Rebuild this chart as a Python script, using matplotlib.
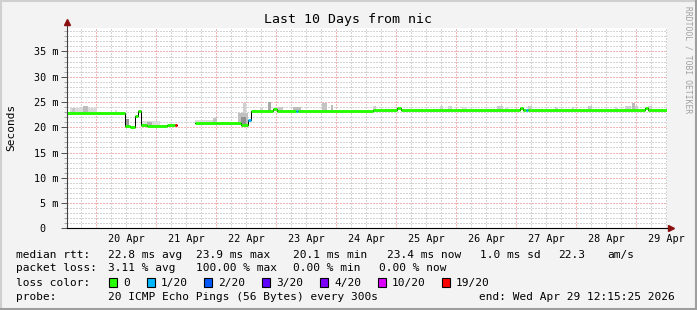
import numpy as np
import matplotlib
matplotlib.use('Agg')
import matplotlib.pyplot as plt
from matplotlib.patches import Rectangle
from matplotlib.lines import Line2D
from datetime import datetime, timedelta

plt.rcParams['font.family'] = ['DejaVu Sans Mono']

# time axis: hours since graph start (end = Wed Apr 29 12:15:25 2026, 10 days)
t_end = datetime(2026, 4, 29, 12, 15, 25)
t_start = t_end - timedelta(days=10)

# median rtt (ms) as steps: start hour of each step, median, lost pings of 20
seg_start = [0, 23.3, 25.2, 27.3, 28.3, 29.5, 32.0, 40.0, 43.2, 44.0,
             51.2, 59.9, 69.6, 72.3, 73.6, 82.4, 84.0, 91.6, 92.4, 122.4,
             132.0, 133.6, 181.2, 182.4, 183.6, 184.4, 231.2, 232.4]
seg_median = [22.9, 20.2, 20.0, 22.3, 23.3, 20.5, 20.3, 20.45, 20.45, np.nan,
              20.9, 20.8, 20.5, 21.4, 23.3, 23.6, 23.2, 23.2, 23.2, 23.4,
              23.9, 23.4, 23.8, 23.4, 23.4, 23.4, 23.8, 23.4]
seg_loss = [0, 0, 0, 0, 0, 0, 0, 0, 19, 0,
            0, 0, 0, 1, 0, 0, 0, 1, 0, 0,
            0, 0, 0, 0, 1, 0, 0, 0]

# smoke (spread of the 20 pings), hours and ms
smoke_start = [1.2, 6.4, 2.0, 19.0, 23.3, 30.0, 31.9, 51.2, 58.4, 68.5, 69.5,
               70.5, 77.2, 80.3, 84.5, 90.5, 101.9, 105.6, 122.5, 149.2, 152.3,
               157.9, 171.9, 175.2, 184.5, 195.2, 201.9, 208.5, 219.2, 223.2,
               226.1, 227.2, 232.5]
smoke_end = [12.0, 8.4, 3.2, 20.0, 24.6, 37.2, 33.9, 59.9, 59.9, 72.5, 71.5,
             71.5, 78.5, 81.6, 86.5, 93.6, 103.9, 106.5, 123.5, 150.5, 153.9,
             159.9, 174.5, 176.5, 185.9, 196.5, 202.9, 210.1, 220.5, 225.6,
             227.2, 228.5, 233.9]
smoke_low = [22.9, 22.9, 22.9, 22.9, 20.1, 20.3, 20.3, 20.9, 20.9, 20.5, 20.5,
             22.8, 23.3, 23.3, 23.2, 23.2, 23.2, 23.2, 23.4, 23.4, 23.4,
             23.4, 23.4, 23.4, 23.4, 23.4, 23.4, 23.4, 23.4, 23.4,
             23.4, 23.4, 23.4]
smoke_high = [23.8, 24.2, 23.9, 23.4, 21.6, 21.3, 21.1, 21.5, 21.8, 22.8, 22.0,
              24.7, 24.1, 24.9, 24.1, 24.1, 24.75, 24.5, 24.3, 24.3, 24.3,
              24.0, 24.3, 24.0, 24.3, 24.1, 24.1, 24.3, 24.0, 24.3,
              24.75, 24.3, 24.3]
smoke_gray = ['#dadada', '#bdbdbd', '#c8c8c8', '#dcdcdc', '#9a9a9a', '#dcdcdc',
              '#b0b0b0', '#dddddd', '#c4c4c4', '#c0c0c0', '#909090', '#d0d0d0',
              '#d6d6d6', '#a8a8a8', '#c8c8c8', '#bcbcbc', '#c4c4c4', '#bbbbbb',
              '#d0d0d0', '#d0d0d0', '#d4d4d4', '#dddddd', '#cccccc', '#dddddd',
              '#cccccc', '#d0d0d0', '#d4d4d4', '#c8c8c8', '#d8d8d8', '#d0d0d0',
              '#bbbbbb', '#cccccc', '#d0d0d0']

loss_labels = ['0', '1/20', '2/20', '3/20', '4/20', '10/20', '19/20']
loss_counts = [0, 1, 2, 3, 4, 10, 19]
loss_colors = ['#26ff00', '#00b8ff', '#0059ff', '#5e00ff', '#7e00ff', '#dd00ff', '#ff0000']

rtt_stats = ['22.8 ms avg', '23.9 ms max', '20.1 ms min', '23.4 ms now', '1.0 ms sd', '22.3', 'am/s']
loss_stats = ['3.11 % avg', '100.00 % max', '0.00 % min', '0.00 % now']
probe_text = '20 ICMP Echo Pings (56 Bytes) every 300s'

W, H = 697, 310
fig = plt.figure(figsize=(W / 100, H / 100), dpi=100, facecolor='#f3f3f3')
ax = fig.add_axes([67 / W, 1 - 228.3 / H, 600 / W, 200.6 / H])
ax.set_facecolor('white')
ax.set_xlim(0, 240)
ax.set_ylim(0, 39.7)
for s in ax.spines.values():
    s.set_visible(False)


def px(x, y):
    return x / W, 1 - y / H


# grid, crisp 1px dotted lines
hours = lambda d: (d - t_start).total_seconds() / 3600
first_mid = datetime(2026, 4, 20)
midnights = [hours(first_mid + timedelta(days=k)) for k in range(10)]
six_h = [hours(first_mid + timedelta(hours=6 * k)) for k in range(-1, 40)]
grid_kw = dict(lw=1.0, ls=(0, (1, 1)), zorder=0, antialiased=False)
for h in six_h:
    if 0 < h < 240 and min(abs(h - m) for m in midnights) > 0.1:
        ax.axvline(h, color='#d4d4d4', **grid_kw)
for h in midnights:
    ax.axvline(h, color='#f4b4b4', **grid_kw)
for v in range(1, 40):
    ax.axhline(v, color='#d4d4d4' if v % 5 else '#f4b4b4', **grid_kw)

# smoke
ax.bar(smoke_start, np.array(smoke_high) - np.array(smoke_low),
       width=np.array(smoke_end) - np.array(smoke_start), bottom=smoke_low,
       align='edge', color=smoke_gray, linewidth=0, zorder=2)

# median line (black) + loss coloured segments
seg_x = seg_start + [240]
seg_y = seg_median + [seg_median[-1]]
ax.step(seg_x, seg_y, where='post', color='black', lw=0.72, zorder=3)
color_of = dict(zip(loss_counts, loss_colors))
for i in range(len(seg_start)):
    if np.isnan(seg_median[i]):
        continue
    ax.hlines(seg_median[i], seg_x[i], seg_x[i + 1], colors=color_of[seg_loss[i]],
              lw=2.1, capstyle='butt', zorder=4)

# ticks
noons = [m + 12 for m in midnights]
day_labels = [(first_mid + timedelta(days=k)).strftime('%d %b') for k in range(10)]
ax.set_xticks(noons, labels=day_labels)
ax.tick_params(axis='x', length=0, pad=4, labelsize=7.3)
yt = list(range(0, 40, 5))
ax.set_yticks(yt, labels=['0  '] + ['%d m' % v for v in yt[1:]])
ax.set_yticks(range(0, 40), minor=True)
ax.tick_params(axis='y', which='major', length=4, width=0.72, color='#555555',
               pad=2, labelsize=7.3)
ax.tick_params(axis='y', which='minor', length=2, width=0.72, color='#aaaaaa')

# axes with arrows
ax.add_line(Line2D([0, 0], [0, 1.025], transform=ax.transAxes, color='#404040',
                   lw=0.8, clip_on=False, zorder=5))
ax.add_line(Line2D([0, 1.004], [0, 0], transform=ax.transAxes, color='black',
                   lw=0.8, clip_on=False, zorder=5))
ax.plot([0], [1.028], marker='^', ms=4.5, color='#8b1010', transform=ax.transAxes,
        clip_on=False, zorder=6)
ax.plot([1.006], [0], marker='>', ms=4.5, color='#8b1010', transform=ax.transAxes,
        clip_on=False, zorder=6)

# texts
fig.text(*px(347.5, 19.3), 'Last 10 Days from nic', ha='center', va='center', fontsize=9.5)
fig.text(*px(11, 127), 'Seconds', rotation=90, ha='center', va='center', fontsize=8)
fig.text(*px(688, 60), 'RRDTOOL / TOBI OETIKER', rotation=270, ha='center', va='center',
         fontsize=5.8, color='#a0a0a0')

fs = 8
rows = [254.7, 268.3, 282.7, 296.7]
fig.text(*px(16.4, rows[0]), 'median rtt:', va='center', fontsize=fs)
for x, s in zip([107.6, 195.6, 293.3, 386.7, 480, 557.8, 607.6], rtt_stats):
    fig.text(*px(x, rows[0]), s, va='center', fontsize=fs)
fig.text(*px(16.4, rows[1]), 'packet loss:', va='center', fontsize=fs)
for x, s in zip([107.6, 195.6, 293.3, 378.7], loss_stats):
    fig.text(*px(x, rows[1]), s, va='center', fontsize=fs)
fig.text(*px(16.4, rows[2]), 'loss color:', va='center', fontsize=fs)
for x, s, c in zip([108.9, 146.7, 204.4, 262.2, 320, 377.8, 442.2], loss_labels, loss_colors):
    fig.add_artist(Rectangle(px(x, rows[2] + 4.5), 8 / W, 9 / H, transform=fig.transFigure,
                             facecolor=c, edgecolor='black', lw=0.8))
    fig.text(*px(x + 14, rows[2]), s, va='center', fontsize=fs)
fig.text(*px(16.4, rows[3]), 'probe:', va='center', fontsize=fs)
fig.text(*px(107.6, rows[3]), probe_text, va='center', fontsize=fs)
fig.text(*px(478.7, rows[3]), 'end: ' + t_end.strftime('%a %b %d %H:%M:%S %Y'),
         va='center', fontsize=fs)

# 3d frame
for xs, ys, c in [([0, W], [0.5, 0.5], '#cfcfcf'), ([0.5, 0.5], [0, H], '#cfcfcf'),
                  ([0, W], [H - 1, H - 1], '#9e9e9e'), ([W - 1, W - 1], [0, H], '#9e9e9e')]:
    fig.add_artist(Line2D([x / W for x in xs], [1 - y / H for y in ys],
                          transform=fig.transFigure, color=c, lw=1.5))

fig.savefig('out.png', dpi=100, facecolor=fig.get_facecolor())
